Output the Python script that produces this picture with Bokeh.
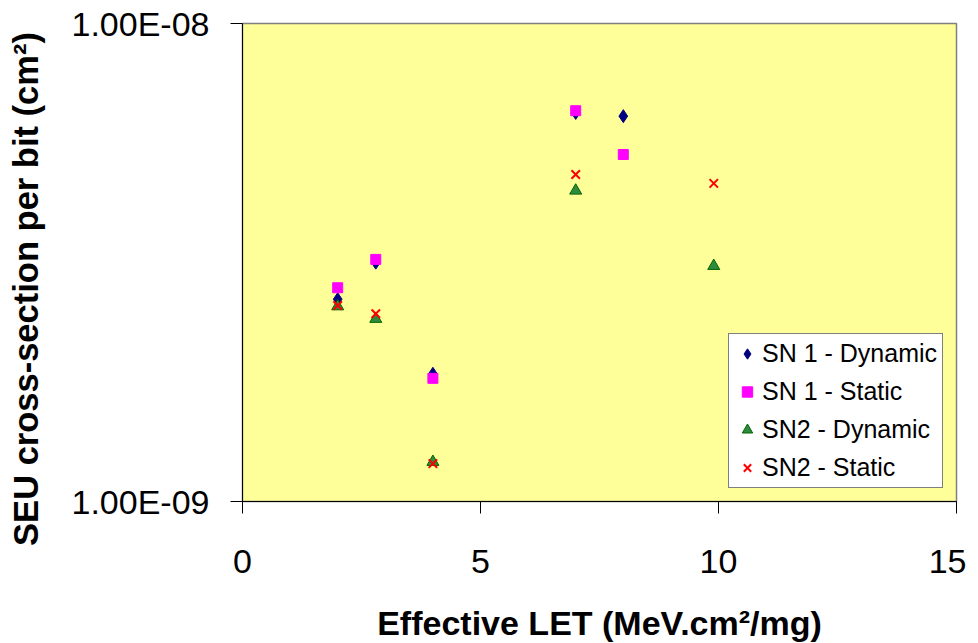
from bokeh.plotting import figure
from bokeh.layouts import row
from bokeh.models import (FixedTicker, CustomJSTickFormatter, Legend, LegendItem,
                          Range1d)
from bokeh.core.properties import value
from bokeh.embed import file_html
from bokeh.resources import INLINE
import math

# ---- data ----
sn1_dyn_x = [2.0, 2.8, 4.0, 7.0, 8.0]
sn1_dyn_y = [2.65e-9, 3.16e-9, 1.85e-9, 6.50e-9, 6.40e-9]

sn1_sta_x = [2.0, 2.8, 4.0, 7.0, 8.0]
sn1_sta_y = [2.80e-9, 3.21e-9, 1.81e-9, 6.57e-9, 5.32e-9]

sn2_dyn_x = [2.0, 2.8, 4.0, 7.0, 9.9]
sn2_dyn_y = [2.56e-9, 2.41e-9, 1.21e-9, 4.47e-9, 3.11e-9]

sn2_sta_x = [2.0, 2.8, 4.0, 7.0, 9.9]
sn2_sta_y = [2.57e-9, 2.47e-9, 1.20e-9, 4.83e-9, 4.63e-9]

series_names = ["SN 1 - Dynamic", "SN 1 - Static", "SN2 - Dynamic", "SN2 - Static"]

x_ticks = [0, 5, 10, 15]
x_tick_labels = ["0", "5", "10", "15"]
y_ticks = [1e-9, 1e-8]
y_tick_labels = ["1.00E-09", "1.00E-08"]

x_title = "Effective LET (MeV.cm²/mg)"
y_title = "SEU cross-section per bit (cm²)"

FONT = "Liberation Sans"
TITLE_W = 50
TOTAL_H = 630

# ---- narrow panel on the left that carries the y-axis title ----
tp = figure(frame_width=TITLE_W, frame_height=TOTAL_H, min_border=0,
            x_range=Range1d(0, TITLE_W), y_range=Range1d(TOTAL_H, 0),
            x_axis_location=None, y_axis_location=None,
            output_backend="svg", toolbar_location=None)
tp.outline_line_color = None
tp.background_fill_color = "white"
tp.border_fill_color = "white"
tp.xgrid.visible = False
tp.ygrid.visible = False
tp.text(x=[25], y=[265.5], text=[y_title], angle=math.pi / 2,
        text_align="center", text_baseline="middle",
        text_font=value(FONT), text_font_size="34.5px", text_font_style="bold",
        text_color="black")

# ---- main chart ----
p = figure(frame_width=714, frame_height=478,
           min_border_left=242 - TITLE_W, min_border_top=23, min_border_right=10,
           min_border_bottom=TOTAL_H - 23 - 478,
           y_axis_type="log",
           x_range=Range1d(0, 15), y_range=Range1d(1e-9, 1e-8),
           output_backend="svg", toolbar_location=None)

p.background_fill_color = "#FFFF99"
p.border_fill_color = "white"
p.outline_line_color = "#808080"
p.outline_line_width = 1.5
p.xgrid.visible = False
p.ygrid.visible = False

xa = p.xaxis[0]
xa.ticker = FixedTicker(ticks=x_ticks)
xa.major_label_overrides = {t: l for t, l in zip(x_ticks, x_tick_labels)}
ya = p.yaxis[0]
ya.ticker = FixedTicker(ticks=y_ticks)
ya.formatter = CustomJSTickFormatter(args=dict(vals=y_ticks, labs=y_tick_labels), code="""
for (let i = 0; i < vals.length; i++) {
  if (Math.abs(Math.log10(tick) - Math.log10(vals[i])) < 1e-6) return labs[i];
}
return '';
""")

for ax in (xa, ya):
    ax.axis_line_color = "black"
    ax.axis_line_width = 1
    ax.major_tick_line_color = "black"
    ax.major_tick_out = 12
    ax.major_tick_in = 0
    ax.minor_tick_line_color = None
    ax.major_label_text_font = FONT
    ax.major_label_text_font_size = "34px"
    ax.major_label_text_color = "black"

xa.major_label_standoff = 36
ya.major_label_standoff = 21

xa.axis_label = x_title
xa.axis_label_text_font = FONT
xa.axis_label_text_font_size = "34px"
xa.axis_label_text_font_style = "bold"
xa.axis_label_text_color = "black"
xa.axis_label_standoff = 28

r1 = p.scatter(sn1_dyn_x, sn1_dyn_y, marker="diamond", size=13,
               fill_color="#000080", line_color="#000080")
r2 = p.scatter(sn1_sta_x, sn1_sta_y, marker="square", size=10,
               fill_color="#FF00FF", line_color="#FF00FF")
r3 = p.scatter(sn2_dyn_x, sn2_dyn_y, marker="triangle", size=12,
               fill_color="#2E8B3E", line_color="#006400", line_width=1)
r4 = p.scatter(sn2_sta_x, sn2_sta_y, marker="x", size=12,
               line_color="#FF0000", line_width=2)

legend = Legend(items=[LegendItem(label=n, renderers=[r]) for n, r in
                       zip(series_names, [r1, r2, r3, r4])],
                location=(486, 13))
legend.label_text_font = FONT
legend.label_text_font_size = "25px"
legend.label_text_color = "black"
legend.border_line_color = "black"
legend.border_line_width = 1
legend.background_fill_color = "white"
legend.background_fill_alpha = 1
legend.padding = 5
legend.spacing = 9
legend.glyph_width = 26
legend.glyph_height = 27
legend.label_height = 27
legend.label_standoff = 2
legend.margin = 0
p.add_layout(legend)

layout = row(tp, p, spacing=0)
open("out.html", "w").write(file_html(layout, INLINE))
